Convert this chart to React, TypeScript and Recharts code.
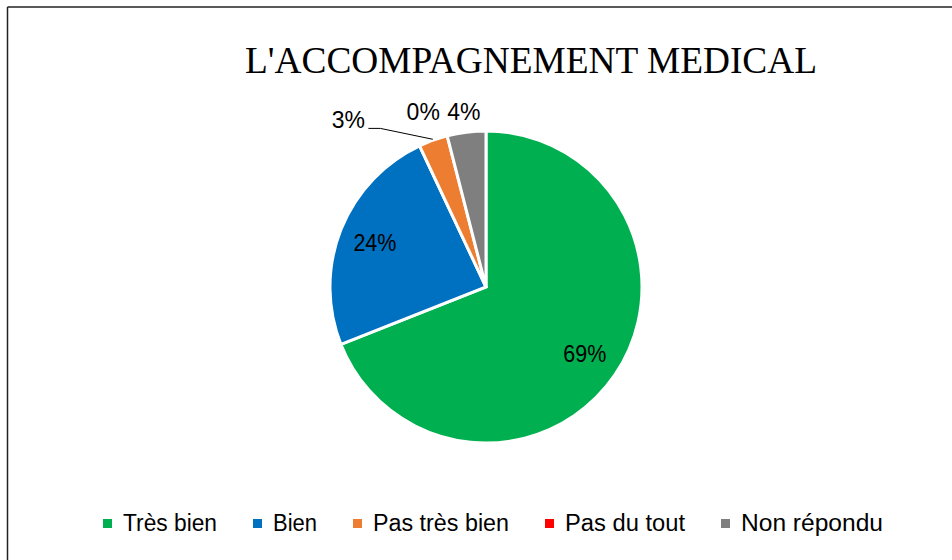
import React from 'react';
import { PieChart, Pie, Cell, Legend, Customized } from 'recharts';

const title = "L'ACCOMPAGNEMENT MEDICAL";
const categories = ['Très bien', 'Bien', 'Pas très bien', 'Pas du tout', 'Non répondu'];
const values = [69, 24, 3, 0, 4];
const valueLabels = ['69%', '24%', '3%', '0%', '4%'];
const colors = ['#00B050', '#0070C0', '#ED7D31', '#FF0000', '#7F7F7F'];

const data = categories.map((name, i) => ({ name, value: values[i], label: valueLabels[i] }));

// layout constants
const RAD = Math.PI / 180;
const INSIDE = [true, true, false, false, false];
const NUDGE: number[][] = [[0, 0], [0, 0], [-78, -1], [-19, -5], [0, 0]];
const LEGEND_TEXT_W = [94, 44, 136, 120, 142];
const LABEL_FONT = '"Liberation Sans", Arial, sans-serif';

const renderLabel = (p: any) => {
  const { cx, cy, midAngle, outerRadius, index } = p;
  const cos = Math.cos(-midAngle * RAD);
  const sin = Math.sin(-midAngle * RAD);
  const txt = data[index].label;
  const tl = txt.length === 3 ? 43 : undefined;
  if (INSIDE[index]) {
    const r = outerRadius * 0.766;
    return (
      <text x={cx + r * cos} y={cy + r * sin} textAnchor="middle" dominantBaseline="central"
        fontFamily={LABEL_FONT} fontSize={23} fill="#000"
        textLength={tl} lengthAdjust="spacingAndGlyphs">{txt}</text>
    );
  }
  const r = outerRadius + 20;
  const x = cx + r * cos + NUDGE[index][0];
  const y = cy + r * sin + NUDGE[index][1];
  const lead = index === 2 ? (
    <polyline
      points={`${x + 20},${y + 8} ${x + 32},${y + 8} ${cx + (outerRadius + 1) * cos},${cy + (outerRadius + 1) * sin}`}
      fill="none" stroke="#000" strokeWidth={1} />
  ) : null;
  return (
    <g>
      {lead}
      <text x={x} y={y} textAnchor="middle" dominantBaseline="central"
        fontFamily={LABEL_FONT} fontSize={23} fill="#000">{txt}</text>
    </g>
  );
};

const renderLegend = () => {
  let x = 103;
  const items = categories.map((name, i) => {
    const sx = x;
    const tx = sx + 20;
    x = tx + LEGEND_TEXT_W[i] + 36;
    return (
      <g key={name}>
        <rect x={sx} y={19} width={9} height={9} fill={colors[i]} />
        <text x={tx} y={31} fontFamily={LABEL_FONT} fontSize={23} fill="#000"
          textLength={LEGEND_TEXT_W[i]} lengthAdjust="spacingAndGlyphs">{name}</text>
      </g>
    );
  });
  return (
    <svg width={952} height={50} style={{ display: 'block' }}>
      {items}
    </svg>
  );
};

const Decor = () => (
  <g>
    <line x1={7.5} y1={7} x2={952} y2={7} stroke="#222" strokeWidth={1.5} />
    <line x1={7.5} y1={7} x2={7.5} y2={560} stroke="#222" strokeWidth={1.5} />
    <text x={531} y={73} textAnchor="middle" fontFamily='"Liberation Serif", "Times New Roman", serif'
      fontSize={38} fill="#000" textLength={572} lengthAdjust="spacingAndGlyphs">{title}</text>
  </g>
);

export default function App() {
  return (
    <div style={{ position: 'absolute', left: 0, top: 0, width: 952, height: 560, background: '#fff' }}>
      <PieChart width={952} height={560} margin={{ top: 0, right: 0, bottom: 0, left: 0 }}>
        <Customized component={Decor} />
        <Pie
          data={data}
          dataKey="value"
          nameKey="name"
          cx={486}
          cy={287}
          outerRadius={156}
          startAngle={90}
          endAngle={-270}
          stroke="#fff"
          strokeWidth={3}
          label={renderLabel}
          labelLine={false}
          isAnimationActive={false}
        >
          {data.map((d, i) => (
            <Cell key={d.name} fill={colors[i]} />
          ))}
        </Pie>
        <Legend content={renderLegend}
          wrapperStyle={{ position: 'absolute', left: 0, top: 500, width: 952, height: 50 }} />
      </PieChart>
    </div>
  );
}
